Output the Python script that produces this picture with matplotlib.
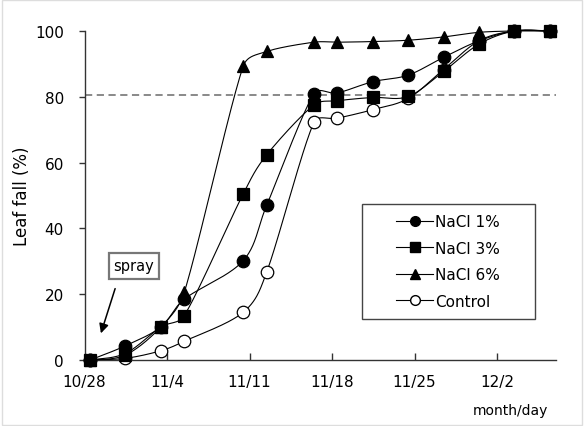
import numpy as np
import matplotlib
matplotlib.use("Agg")
import matplotlib.pyplot as plt
from matplotlib.lines import Line2D
from matplotlib.patches import Rectangle

plt.rcParams['font.family'] = ['DejaVu Sans']

# sampling days counted from 10/28 (observations taken late morning)
days = [0, 3, 6, 8, 13, 15, 19, 21, 24, 27, 30, 33, 36, 39]
obs_hour = 11

nacl1 = [0, 4.3, 10, 18.5, 30.2, 47.1, 80.9, 81.2, 84.6, 86.6, 92.0, 97.0, 100, 100]
nacl3 = [0, 2.0, 10, 13.5, 50.5, 62.4, 77.5, 78.8, 79.8, 80.1, 87.7, 96.0, 100, 100]
nacl6 = [0, 1.5, 10, 20.6, 89.3, 93.8, 96.6, 96.6, 96.8, 97.2, 98.2, 99.6, 100, 100]
control = [0, 0.5, 2.8, 5.7, 14.5, 26.8, 72.2, 73.5, 76.1, 79.5, 88.3, 97.0, 100, 100]

tick_days = [0, 7, 14, 21, 28, 35]
tick_labels = ['10/28', '11/4', '11/11', '11/18', '11/25', '12/2']
y_ticks = [0, 20, 40, 60, 80, 100]
threshold = 80.5

fig = plt.figure(figsize=(5.84, 4.27), dpi=100)
ax = fig.add_axes([0.1449, 0.1546, 0.8071, 0.7704])
ax.set_xlim(0, 40)
ax.set_ylim(0, 100)


def smooth(x, y, sx, sy, n=40, limit=0.4):
    """Bezier smoothing through every point; tangents are computed in
    display units and kept short on short segments to avoid bumps."""
    X = np.asarray(x, float) * sx
    Y = np.asarray(y, float) * sy
    P = np.column_stack([X, Y])
    Pe = np.vstack([P[0], P, P[-1]])
    t = np.linspace(0, 1, n)[:, None]
    out = []
    for i in range(1, len(Pe) - 2):
        p0, p3 = Pe[i], Pe[i + 1]
        seg = np.linalg.norm(p3 - p0)
        v1 = (Pe[i + 1] - Pe[i - 1]) / 6
        v2 = (Pe[i + 2] - Pe[i]) / 6
        for v in (v1, v2):
            L = np.linalg.norm(v)
            if L > limit * seg and L > 0:
                v *= limit * seg / L
        c1 = p0 + v1
        c2 = p3 - v2
        pts = ((1 - t) ** 3 * p0 + 3 * (1 - t) ** 2 * t * c1
               + 3 * (1 - t) * t ** 2 * c2 + t ** 3 * p3)
        out.append(pts)
    pts = np.vstack(out)
    return pts[:, 0] / sx, pts[:, 1] / sy


bbox = ax.get_position()
px_per_day = bbox.width * fig.get_figwidth() * fig.dpi / 40
px_per_unit = bbox.height * fig.get_figheight() * fig.dpi / 100

x = np.array(days, float) + obs_hour / 24

series = [
    ('Control', control, 'o', 'white', 9.0, 2),
    ('NaCl 6%', nacl6, '^', 'black', 9.0, 3),
    ('NaCl 1%', nacl1, 'o', 'black', 9.0, 4),
    ('NaCl 3%', nacl3, 's', 'black', 8.5, 5),
]
for name, vals, mk, fc, ms, z in series:
    cx, cy = smooth(x, vals, px_per_day, px_per_unit)
    ax.plot(cx, cy, color='black', lw=0.8, zorder=z, clip_on=False)
    ax.plot(x, vals, ls='none', marker=mk, ms=ms, mfc=fc, mec='black',
            mew=0.9, zorder=z + 0.5, clip_on=False)

ax.axhline(threshold, color='#808080', lw=1.3, ls=(0, (4, 2.5)), zorder=1)

ax.set_xticks(tick_days)
ax.set_xticklabels(tick_labels)
ax.set_yticks(y_ticks)
ax.spines['top'].set_visible(False)
ax.spines['right'].set_visible(False)
for s in ('left', 'bottom'):
    ax.spines[s].set_linewidth(1.0)
    ax.spines[s].set_color('#333333')
ax.tick_params(axis='x', direction='in', length=5, width=1, labelsize=11, pad=10, colors='#333333')
ax.tick_params(axis='y', direction='out', length=4, width=1, labelsize=11, pad=11, colors='#333333')
for lab in ax.get_xticklabels() + ax.get_yticklabels():
    lab.set_color('black')
ax.set_ylabel('Leaf fall (%)', fontsize=12, labelpad=3)

# legend frame and entries
ax.add_patch(Rectangle((0.588, 0.125), 0.367, 0.349, transform=ax.transAxes,
                       fill=True, facecolor='white', edgecolor='#444444', lw=1.0, zorder=6))
handles = [
    Line2D([], [], color='black', lw=0.8, marker='o', ms=7, mfc='black', mec='black'),
    Line2D([], [], color='black', lw=0.8, marker='s', ms=6.5, mfc='black', mec='black'),
    Line2D([], [], color='black', lw=0.8, marker='^', ms=7, mfc='black', mec='black'),
    Line2D([], [], color='black', lw=0.8, marker='o', ms=7, mfc='white', mec='black'),
]
leg = ax.legend(handles, ['NaCl 1%', 'NaCl 3%', 'NaCl 6%', 'Control'],
                loc='center', bbox_to_anchor=(0.7715, 0.2995), frameon=False,
                fontsize=11, handlelength=2.4, handletextpad=0.15, labelspacing=0.75)
leg.set_zorder(7)

# spray marker
ax.annotate('', xy=(1.31, 7.3), xytext=(2.66, 22.5),
            arrowprops=dict(arrowstyle='-|>', color='black', lw=1.1,
                            mutation_scale=14), zorder=6)
ax.text(4.19, 28.6, 'spray', ha='center', va='center', fontsize=10.5,
        bbox=dict(boxstyle='square,pad=0.35', fc='white', ec='#777777', lw=1.6), zorder=6)

fig.text(510 / 584, 1 - 411 / 427, 'month/day', ha='center', va='center', fontsize=10)

fig.patches.append(Rectangle((0.003, 0.003), 0.994, 0.994, transform=fig.transFigure,
                             fill=False, edgecolor='#dddddd', lw=1.0))

fig.savefig('out.png', dpi=100)
